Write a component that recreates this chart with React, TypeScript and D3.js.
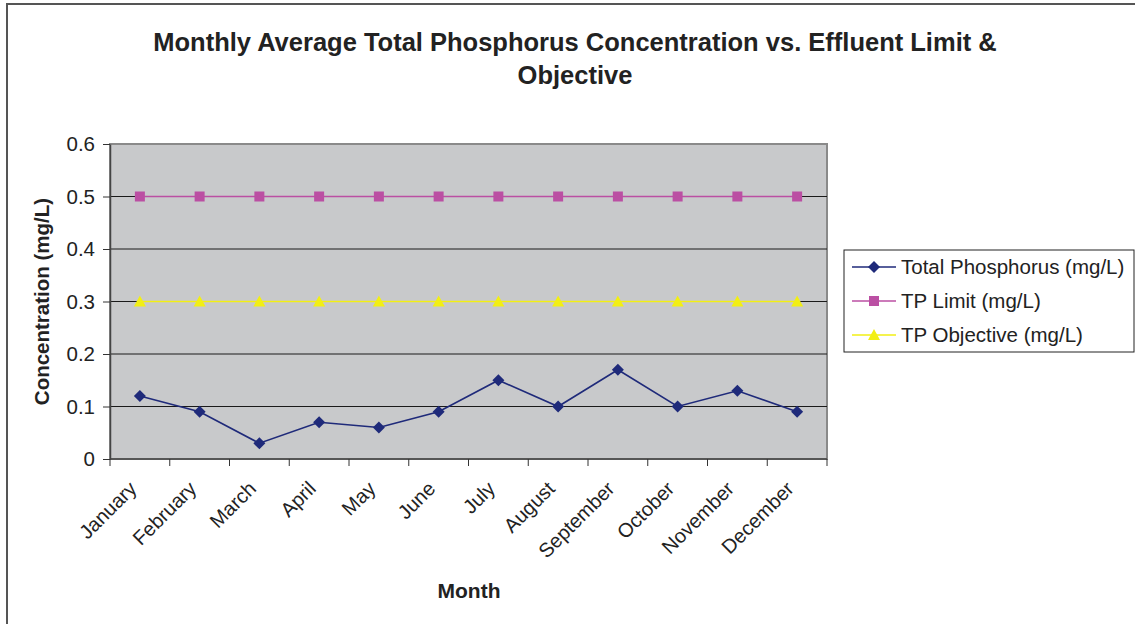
import React, { useEffect, useRef } from 'react';
import * as d3 from 'd3';

const months = ['January', 'February', 'March', 'April', 'May', 'June', 'July', 'August', 'September', 'October', 'November', 'December'];
const totalPhosphorus = [0.12, 0.09, 0.03, 0.07, 0.06, 0.09, 0.15, 0.10, 0.17, 0.10, 0.13, 0.09];
const tpLimit = [0.5, 0.5, 0.5, 0.5, 0.5, 0.5, 0.5, 0.5, 0.5, 0.5, 0.5, 0.5];
const tpObjective = [0.3, 0.3, 0.3, 0.3, 0.3, 0.3, 0.3, 0.3, 0.3, 0.3, 0.3, 0.3];
const yTicks = [0, 0.1, 0.2, 0.3, 0.4, 0.5, 0.6];

const W = 1135;
const H = 624;
const FONT = '"Liberation Sans", Arial, sans-serif';

const series = [
  { name: 'Total Phosphorus (mg/L)', values: totalPhosphorus, color: '#1f2a7a', marker: 'diamond' },
  { name: 'TP Limit (mg/L)', values: tpLimit, color: '#bb4fa3', marker: 'square' },
  { name: 'TP Objective (mg/L)', values: tpObjective, color: '#f2ef14', marker: 'triangle' },
];

function markerPath(kind: string) {
  if (kind === 'diamond') return 'M0,-6L6,0L0,6L-6,0Z';
  if (kind === 'square') return 'M-5,-5H5V5H-5Z';
  return 'M0,-6L6,5H-6Z';
}

export default function App() {
  const svgRef = useRef<SVGSVGElement>(null);

  useEffect(() => {
    if (!svgRef.current) return;
    const svg = d3.select(svgRef.current);
    svg.selectAll('*').remove();

    const plot = { left: 110, top: 144, right: 827, bottom: 459 };

    // outer chart border
    svg.append('rect')
      .attr('x', 7).attr('y', 4).attr('width', W + 10).attr('height', H + 10)
      .attr('fill', '#fff').attr('stroke', '#555').attr('stroke-width', 2);

    const x = d3.scaleBand<string>().domain(months).range([plot.left, plot.right]);
    const y = d3.scaleLinear().domain([0, 0.6]).range([plot.bottom, plot.top]);

    // plot area
    svg.append('rect')
      .attr('x', plot.left).attr('y', plot.top)
      .attr('width', plot.right - plot.left).attr('height', plot.bottom - plot.top)
      .attr('fill', '#c8c9cb').attr('stroke', '#8a8a8a').attr('stroke-width', 2);

    // gridlines
    svg.append('g').selectAll('line')
      .data(yTicks.filter(t => t > 0 && t < 0.6))
      .enter().append('line')
      .attr('x1', plot.left).attr('x2', plot.right)
      .attr('y1', d => y(d)).attr('y2', d => y(d))
      .attr('stroke', '#1a1a1a').attr('stroke-width', 1);

    // y axis
    const yAxis = svg.append('g')
      .attr('transform', `translate(${plot.left},0)`)
      .call(d3.axisLeft(y).tickValues(yTicks).tickFormat(d => String(d)).tickSize(7).tickPadding(8).tickSizeOuter(0));
    yAxis.select('.domain').attr('stroke', '#444').attr('stroke-width', 1.5);
    yAxis.selectAll('.tick line').attr('stroke', '#333');
    yAxis.selectAll('.tick text').attr('fill', '#222').style('font-size', '20.5px').style('font-family', FONT);

    // x axis ticks at band boundaries
    const xAxisG = svg.append('g');
    const boundaries = months.map(m => x(m) as number).concat([plot.right]);
    xAxisG.append('line')
      .attr('x1', plot.left).attr('x2', plot.right)
      .attr('y1', plot.bottom).attr('y2', plot.bottom)
      .attr('stroke', '#444').attr('stroke-width', 1.5);
    xAxisG.selectAll('line.tk').data(boundaries).enter().append('line')
      .attr('class', 'tk')
      .attr('x1', d => d).attr('x2', d => d)
      .attr('y1', plot.bottom).attr('y2', plot.bottom + 7)
      .attr('stroke', '#333');
    xAxisG.selectAll('text').data(months).enter().append('text')
      .attr('transform', d => `translate(${(x(d) as number) + x.bandwidth() / 2 - 7},${plot.bottom + 26}) rotate(-45)`)
      .attr('text-anchor', 'end')
      .attr('dy', '0.35em')
      .attr('fill', '#222')
      .style('font-size', '20px').style('font-family', FONT)
      .text(d => d);

    const cx = (m: string) => (x(m) as number) + x.bandwidth() / 2;
    const line = d3.line<number>().x((_, i) => cx(months[i])).y(d => y(d));

    // draw order: objective, limit, phosphorus
    [2, 1, 0].forEach(si => {
      const s = series[si];
      svg.append('path')
        .datum(s.values)
        .attr('d', line)
        .attr('fill', 'none')
        .attr('stroke', s.color)
        .attr('stroke-width', 1.6);
      svg.append('g').selectAll('path')
        .data(s.values)
        .enter().append('path')
        .attr('transform', (d, i) => `translate(${cx(months[i])},${y(d)})`)
        .attr('d', markerPath(s.marker))
        .attr('fill', s.color);
    });

    // title
    const title = svg.append('text')
      .attr('text-anchor', 'middle')
      .attr('fill', '#222')
      .style('font-size', '25.5px').style('font-weight', 'bold').style('font-family', FONT);
    title.append('tspan').attr('x', 575).attr('y', 51).text('Monthly Average Total Phosphorus Concentration vs. Effluent Limit &');
    title.append('tspan').attr('x', 575).attr('y', 84).text('Objective');

    // axis titles
    svg.append('text')
      .attr('transform', `translate(49,${(plot.top + plot.bottom) / 2}) rotate(-90)`)
      .attr('text-anchor', 'middle')
      .attr('fill', '#222')
      .style('font-size', '20.5px').style('font-weight', 'bold').style('font-family', FONT)
      .text('Concentration (mg/L)');
    svg.append('text')
      .attr('x', 469).attr('y', 598)
      .attr('text-anchor', 'middle')
      .attr('fill', '#222')
      .style('font-size', '21px').style('font-weight', 'bold').style('font-family', FONT)
      .text('Month');

    // legend
    const lg = svg.append('g');
    lg.append('rect')
      .attr('x', 844).attr('y', 250).attr('width', 290).attr('height', 102)
      .attr('fill', '#fff').attr('stroke', '#222').attr('stroke-width', 1);
    series.forEach((s, i) => {
      const ly = 267 + i * 34;
      lg.append('line')
        .attr('x1', 852).attr('x2', 896).attr('y1', ly).attr('y2', ly)
        .attr('stroke', s.color).attr('stroke-width', 1.6);
      lg.append('path')
        .attr('transform', `translate(874,${ly})`)
        .attr('d', markerPath(s.marker))
        .attr('fill', s.color);
      lg.append('text')
        .attr('x', 901).attr('y', ly).attr('dy', '0.35em')
        .attr('fill', '#222')
        .style('font-size', '20.5px').style('font-family', FONT)
        .text(s.name);
    });
  }, []);

  return (
    <svg ref={svgRef} width={W} height={H} style={{ position: 'absolute', left: 0, top: 0, background: '#fff' }} />
  );
}
